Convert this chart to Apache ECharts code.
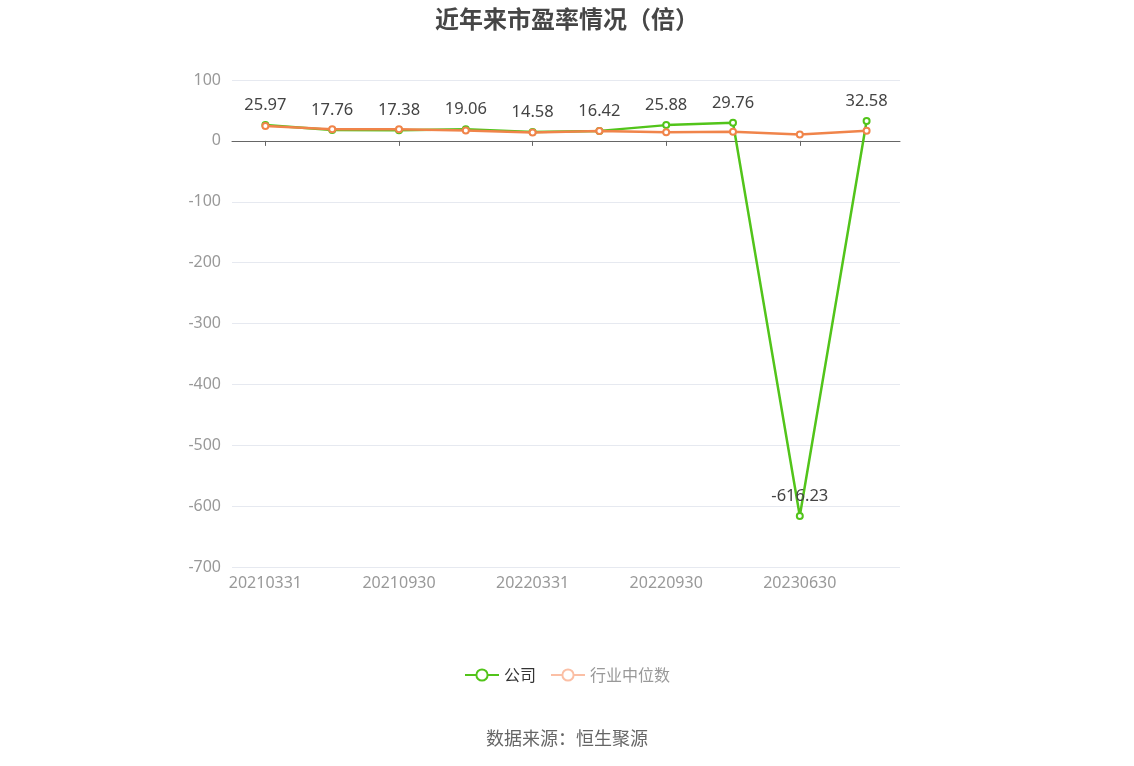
<!DOCTYPE html>
<html>
<head>
<meta charset="utf-8">
<script src="https://cdn.jsdelivr.net/npm/echarts@6/dist/echarts.min.js"></script>
<style>html,body{margin:0;padding:0;background:#fff}#c{width:1134px;height:766px}</style>
</head>
<body>
<div id="c"></div>
<script>
const categories = ['20210331','20210630','20210930','20211231','20220331','20220630','20220930','20221231','20230630','20230930'];
const companyPE = [25.97, 17.76, 17.38, 19.06, 14.58, 16.42, 25.88, 29.76, -616.23, 32.58];
const industryPE = [24.6, 19.2, 19.0, 17.0, 13.7, 16.4, 14.2, 14.8, 10.4, 16.5];
const yMin = -700, yMax = 100, yStep = 100;

const chart = echarts.init(document.getElementById('c'));
chart.setOption({
  backgroundColor: '#fff',
  animation: false,
  title: {
    text: '近年来市盈率情况（倍）',
    left: 'center', top: 2,
    textStyle: { fontSize: 24, fontWeight: 'bold', color: '#464646', fontFamily: 'Noto Sans CJK SC' }
  },
  graphic: [{
    type: 'text', left: 'center', top: 729,
    style: { text: '数据来源：恒生聚源', fontSize: 18, fill: '#666', fontFamily: 'Noto Sans CJK SC' }
  }],
  legend: {
    bottom: 78, left: 'center',
    itemWidth: 34, itemHeight: 14, itemGap: 14,
    textStyle: { fontSize: 16, color: '#333', fontFamily: 'Noto Sans CJK SC' },
    data: [
      { name: '公司' },
      { name: '行业中位数', textStyle: { color: '#999' },
        itemStyle: { color: '#fbbfa5', borderColor: '#fbbfa5' },
        lineStyle: { color: '#fbbfa5' } }
    ]
  },
  grid: { left: 232, right: 234, top: 80, bottom: 199 },
  xAxis: {
    type: 'category', data: categories, boundaryGap: true,
    axisLine: { onZero: true, lineStyle: { color: '#666' } },
    axisTick: { show: true, alignWithLabel: true, interval: 1, lineStyle: { color: '#666' } },
    axisLabel: { interval: 1, color: '#999', fontSize: 16, fontFamily: 'Noto Sans', margin: 8 },
    position: 'bottom'
  },
  yAxis: {
    type: 'value', min: yMin, max: yMax, interval: yStep,
    axisLine: { show: false }, axisTick: { show: false },
    axisLabel: { color: '#999', fontSize: 16, fontFamily: 'Noto Sans', margin: 11 },
    splitLine: { lineStyle: { color: '#e6e9f0' } }
  },
  series: [
    {
      name: '公司', type: 'line', data: companyPE,
      symbol: 'emptyCircle', symbolSize: 6,
      itemStyle: { color: '#52c41a', borderWidth: 2 },
      lineStyle: { color: '#52c41a', width: 2.5 },
      label: { show: true, position: 'top', distance: 7, fontSize: 16.5, color: '#444', fontFamily: 'Noto Sans' },
      z: 2
    },
    {
      name: '行业中位数', type: 'line', data: industryPE,
      symbol: 'emptyCircle', symbolSize: 6,
      itemStyle: { color: '#f0844a', borderWidth: 2 },
      lineStyle: { color: '#f0844a', width: 2.5 },
      z: 3
    }
  ]
});
</script>
</body>
</html>
